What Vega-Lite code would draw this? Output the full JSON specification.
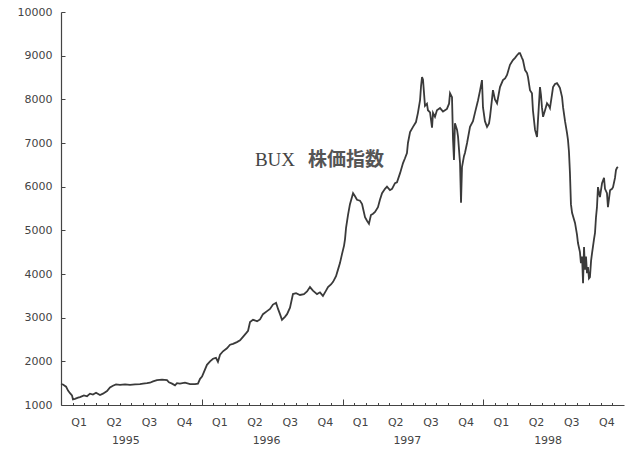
{
  "$schema": "https://vega.github.io/schema/vega-lite/v6.json",
  "width": 563,
  "height": 393,
  "autosize": {"type": "none"},
  "padding": {"left": 61, "top": 12, "right": 4, "bottom": 45},
  "background": "white",
  "config": {
    "view": {"stroke": null},
    "axis": {
      "domainColor": "#444",
      "tickColor": "#444",
      "labelColor": "#444",
      "labelFont": "DejaVu Sans",
      "labelFontSize": 11,
      "grid": false,
      "title": null
    }
  },
  "data": {
    "values": [
      {"year": 1995.000, "bux": 1480}, {"year": 1995.014, "bux": 1470}, {"year": 1995.036, "bux": 1420},
      {"year": 1995.050, "bux": 1330}, {"year": 1995.064, "bux": 1270}, {"year": 1995.078, "bux": 1220},
      {"year": 1995.085, "bux": 1130}, {"year": 1995.099, "bux": 1140}, {"year": 1995.121, "bux": 1170},
      {"year": 1995.135, "bux": 1180}, {"year": 1995.163, "bux": 1220}, {"year": 1995.185, "bux": 1200},
      {"year": 1995.206, "bux": 1260}, {"year": 1995.227, "bux": 1240}, {"year": 1995.249, "bux": 1280},
      {"year": 1995.277, "bux": 1230}, {"year": 1995.298, "bux": 1260}, {"year": 1995.327, "bux": 1320},
      {"year": 1995.348, "bux": 1400}, {"year": 1995.369, "bux": 1440}, {"year": 1995.391, "bux": 1470},
      {"year": 1995.419, "bux": 1460}, {"year": 1995.455, "bux": 1470}, {"year": 1995.490, "bux": 1460},
      {"year": 1995.526, "bux": 1470}, {"year": 1995.561, "bux": 1480}, {"year": 1995.583, "bux": 1490},
      {"year": 1995.611, "bux": 1500}, {"year": 1995.632, "bux": 1510}, {"year": 1995.654, "bux": 1540},
      {"year": 1995.682, "bux": 1570}, {"year": 1995.718, "bux": 1580}, {"year": 1995.753, "bux": 1570},
      {"year": 1995.767, "bux": 1520}, {"year": 1995.789, "bux": 1490}, {"year": 1995.810, "bux": 1450},
      {"year": 1995.824, "bux": 1500}, {"year": 1995.845, "bux": 1490}, {"year": 1995.881, "bux": 1510},
      {"year": 1995.917, "bux": 1480}, {"year": 1995.952, "bux": 1480}, {"year": 1995.973, "bux": 1490},
      {"year": 1995.988, "bux": 1600}, {"year": 1996.002, "bux": 1650}, {"year": 1996.016, "bux": 1760},
      {"year": 1996.037, "bux": 1920}, {"year": 1996.059, "bux": 2000}, {"year": 1996.080, "bux": 2060},
      {"year": 1996.101, "bux": 2080}, {"year": 1996.115, "bux": 1990}, {"year": 1996.130, "bux": 2150},
      {"year": 1996.151, "bux": 2230}, {"year": 1996.179, "bux": 2300}, {"year": 1996.201, "bux": 2380},
      {"year": 1996.222, "bux": 2400}, {"year": 1996.250, "bux": 2440}, {"year": 1996.272, "bux": 2480},
      {"year": 1996.293, "bux": 2560}, {"year": 1996.314, "bux": 2640}, {"year": 1996.329, "bux": 2700},
      {"year": 1996.343, "bux": 2900}, {"year": 1996.364, "bux": 2950}, {"year": 1996.393, "bux": 2920},
      {"year": 1996.414, "bux": 2960}, {"year": 1996.435, "bux": 3080}, {"year": 1996.464, "bux": 3150},
      {"year": 1996.485, "bux": 3200}, {"year": 1996.506, "bux": 3300}, {"year": 1996.528, "bux": 3340},
      {"year": 1996.542, "bux": 3200}, {"year": 1996.556, "bux": 3080}, {"year": 1996.570, "bux": 2950},
      {"year": 1996.591, "bux": 3020}, {"year": 1996.606, "bux": 3080}, {"year": 1996.627, "bux": 3230},
      {"year": 1996.648, "bux": 3540}, {"year": 1996.670, "bux": 3560}, {"year": 1996.698, "bux": 3520},
      {"year": 1996.726, "bux": 3540}, {"year": 1996.748, "bux": 3600}, {"year": 1996.769, "bux": 3700},
      {"year": 1996.790, "bux": 3620}, {"year": 1996.819, "bux": 3540}, {"year": 1996.840, "bux": 3580},
      {"year": 1996.861, "bux": 3500}, {"year": 1996.883, "bux": 3620}, {"year": 1996.897, "bux": 3700},
      {"year": 1996.918, "bux": 3760}, {"year": 1996.933, "bux": 3820}, {"year": 1996.954, "bux": 3950},
      {"year": 1996.968, "bux": 4100}, {"year": 1996.982, "bux": 4250}, {"year": 1996.996, "bux": 4450},
      {"year": 1997.011, "bux": 4650}, {"year": 1997.018, "bux": 4800}, {"year": 1997.025, "bux": 5050},
      {"year": 1997.039, "bux": 5350}, {"year": 1997.053, "bux": 5600}, {"year": 1997.067, "bux": 5760},
      {"year": 1997.075, "bux": 5850}, {"year": 1997.089, "bux": 5780}, {"year": 1997.103, "bux": 5700},
      {"year": 1997.124, "bux": 5680}, {"year": 1997.139, "bux": 5600}, {"year": 1997.146, "bux": 5500},
      {"year": 1997.160, "bux": 5300}, {"year": 1997.174, "bux": 5220}, {"year": 1997.188, "bux": 5150},
      {"year": 1997.202, "bux": 5350}, {"year": 1997.217, "bux": 5380}, {"year": 1997.231, "bux": 5420},
      {"year": 1997.252, "bux": 5530}, {"year": 1997.266, "bux": 5700}, {"year": 1997.281, "bux": 5850},
      {"year": 1997.302, "bux": 5950}, {"year": 1997.316, "bux": 6000}, {"year": 1997.337, "bux": 5920},
      {"year": 1997.352, "bux": 5950}, {"year": 1997.373, "bux": 6080}, {"year": 1997.387, "bux": 6100},
      {"year": 1997.409, "bux": 6310}, {"year": 1997.430, "bux": 6540}, {"year": 1997.444, "bux": 6650},
      {"year": 1997.458, "bux": 6770}, {"year": 1997.465, "bux": 7000}, {"year": 1997.480, "bux": 7250},
      {"year": 1997.501, "bux": 7370}, {"year": 1997.522, "bux": 7480}, {"year": 1997.536, "bux": 7690},
      {"year": 1997.551, "bux": 7980}, {"year": 1997.558, "bux": 8300}, {"year": 1997.565, "bux": 8510},
      {"year": 1997.572, "bux": 8450}, {"year": 1997.586, "bux": 7850}, {"year": 1997.600, "bux": 7900},
      {"year": 1997.607, "bux": 7750}, {"year": 1997.622, "bux": 7700}, {"year": 1997.636, "bux": 7350},
      {"year": 1997.643, "bux": 7690}, {"year": 1997.657, "bux": 7600}, {"year": 1997.671, "bux": 7750},
      {"year": 1997.693, "bux": 7800}, {"year": 1997.714, "bux": 7720}, {"year": 1997.728, "bux": 7750},
      {"year": 1997.742, "bux": 7780}, {"year": 1997.757, "bux": 7900}, {"year": 1997.764, "bux": 8140},
      {"year": 1997.778, "bux": 8050}, {"year": 1997.785, "bux": 7100}, {"year": 1997.792, "bux": 6610},
      {"year": 1997.799, "bux": 7450}, {"year": 1997.814, "bux": 7300}, {"year": 1997.821, "bux": 7140},
      {"year": 1997.835, "bux": 6540}, {"year": 1997.842, "bux": 5630}, {"year": 1997.849, "bux": 6450},
      {"year": 1997.863, "bux": 6700}, {"year": 1997.870, "bux": 6770}, {"year": 1997.885, "bux": 7000},
      {"year": 1997.906, "bux": 7370}, {"year": 1997.927, "bux": 7500}, {"year": 1997.941, "bux": 7690},
      {"year": 1997.963, "bux": 7980}, {"year": 1997.977, "bux": 8200}, {"year": 1997.991, "bux": 8440},
      {"year": 1997.998, "bux": 7820}, {"year": 1998.012, "bux": 7500}, {"year": 1998.027, "bux": 7370},
      {"year": 1998.041, "bux": 7450}, {"year": 1998.048, "bux": 7600}, {"year": 1998.062, "bux": 8000},
      {"year": 1998.069, "bux": 8210}, {"year": 1998.083, "bux": 8000}, {"year": 1998.098, "bux": 7910},
      {"year": 1998.119, "bux": 8280}, {"year": 1998.140, "bux": 8440}, {"year": 1998.155, "bux": 8480},
      {"year": 1998.169, "bux": 8560}, {"year": 1998.190, "bux": 8790}, {"year": 1998.211, "bux": 8900},
      {"year": 1998.226, "bux": 8950}, {"year": 1998.240, "bux": 9010}, {"year": 1998.254, "bux": 9060},
      {"year": 1998.261, "bux": 9060}, {"year": 1998.275, "bux": 8950}, {"year": 1998.282, "bux": 8900},
      {"year": 1998.297, "bux": 8670}, {"year": 1998.311, "bux": 8600}, {"year": 1998.318, "bux": 8510},
      {"year": 1998.332, "bux": 8210}, {"year": 1998.346, "bux": 8140}, {"year": 1998.353, "bux": 7750},
      {"year": 1998.368, "bux": 7300}, {"year": 1998.382, "bux": 7140}, {"year": 1998.389, "bux": 7530},
      {"year": 1998.403, "bux": 8280}, {"year": 1998.410, "bux": 8100}, {"year": 1998.417, "bux": 7820},
      {"year": 1998.425, "bux": 7600}, {"year": 1998.439, "bux": 7750}, {"year": 1998.453, "bux": 7910},
      {"year": 1998.467, "bux": 7850}, {"year": 1998.474, "bux": 7800}, {"year": 1998.488, "bux": 8100},
      {"year": 1998.496, "bux": 8280}, {"year": 1998.510, "bux": 8350}, {"year": 1998.524, "bux": 8370},
      {"year": 1998.538, "bux": 8300}, {"year": 1998.545, "bux": 8260}, {"year": 1998.560, "bux": 8050},
      {"year": 1998.567, "bux": 7820}, {"year": 1998.581, "bux": 7500}, {"year": 1998.595, "bux": 7230},
      {"year": 1998.602, "bux": 7070}, {"year": 1998.609, "bux": 6800}, {"year": 1998.616, "bux": 6310},
      {"year": 1998.623, "bux": 5600}, {"year": 1998.631, "bux": 5400}, {"year": 1998.652, "bux": 5170},
      {"year": 1998.666, "bux": 4900}, {"year": 1998.673, "bux": 4710}, {"year": 1998.687, "bux": 4500},
      {"year": 1998.694, "bux": 4250}, {"year": 1998.702, "bux": 4400}, {"year": 1998.709, "bux": 3790},
      {"year": 1998.716, "bux": 4620}, {"year": 1998.723, "bux": 4100}, {"year": 1998.730, "bux": 4400},
      {"year": 1998.737, "bux": 4020}, {"year": 1998.744, "bux": 4160}, {"year": 1998.751, "bux": 3900},
      {"year": 1998.758, "bux": 3930}, {"year": 1998.766, "bux": 4300}, {"year": 1998.773, "bux": 4480},
      {"year": 1998.787, "bux": 4800}, {"year": 1998.794, "bux": 4940}, {"year": 1998.801, "bux": 5300},
      {"year": 1998.808, "bux": 5530}, {"year": 1998.815, "bux": 5990}, {"year": 1998.829, "bux": 5760},
      {"year": 1998.844, "bux": 6080}, {"year": 1998.858, "bux": 6200}, {"year": 1998.865, "bux": 5950},
      {"year": 1998.879, "bux": 5850}, {"year": 1998.886, "bux": 5530}, {"year": 1998.901, "bux": 5920},
      {"year": 1998.915, "bux": 5950}, {"year": 1998.922, "bux": 5990}, {"year": 1998.936, "bux": 6200},
      {"year": 1998.943, "bux": 6380}, {"year": 1998.950, "bux": 6430}, {"year": 1998.957, "bux": 6450}
    ]
  },
  "resolve": {"axis": {"x": "independent", "y": "shared"}, "scale": {"x": "shared", "y": "shared"}},
  "layer": [
    {
      "mark": {"type": "line", "color": "#3a3a3a", "strokeWidth": 1.8, "interpolate": "linear"},
      "encoding": {
        "x": {
          "field": "year", "type": "quantitative",
          "scale": {"domain": [1995, 1999], "nice": false, "zero": false},
          "axis": {
            "orient": "bottom",
            "values": [1995.125, 1995.375, 1995.625, 1995.875, 1996.125, 1996.375, 1996.625, 1996.875, 1997.125, 1997.375, 1997.625, 1997.875, 1998.125, 1998.375, 1998.625, 1998.875],
            "labelExpr": "'Q' + (floor((datum.value - floor(datum.value)) * 4) + 1)",
            "ticks": false,
            "labelPadding": 11,
            "labelFlush": false,
            "labelOverlap": false,
            "domainWidth": 1.2
          }
        },
        "y": {
          "field": "bux", "type": "quantitative",
          "scale": {"domain": [1000, 10000], "nice": false, "zero": false},
          "axis": {
            "values": [1000, 2000, 3000, 4000, 5000, 6000, 7000, 8000, 9000, 10000],
            "format": "d",
            "tickSize": -4,
            "labelPadding": 13,
            "domainWidth": 1.2,
            "labelFlush": false
          }
        }
      }
    },
    {
      "mark": {"type": "point", "opacity": 0},
      "encoding": {
        "x": {
          "field": "year", "type": "quantitative",
          "axis": {
            "orient": "bottom",
            "values": [1995.0833, 1995.1667, 1995.25, 1995.3333, 1995.4167, 1995.5, 1995.5833, 1995.6667, 1995.75, 1995.8333, 1995.9167,
                       1996.0833, 1996.1667, 1996.25, 1996.3333, 1996.4167, 1996.5, 1996.5833, 1996.6667, 1996.75, 1996.8333, 1996.9167,
                       1997.0833, 1997.1667, 1997.25, 1997.3333, 1997.4167, 1997.5, 1997.5833, 1997.6667, 1997.75, 1997.8333, 1997.9167,
                       1998.0833, 1998.1667, 1998.25, 1998.3333, 1998.4167, 1998.5, 1998.5833, 1998.6667, 1998.75, 1998.8333, 1998.9167],
            "labels": false,
            "domain": false,
            "tickSize": -2.5
          }
        }
      }
    },
    {
      "mark": {"type": "point", "opacity": 0},
      "encoding": {
        "x": {
          "field": "year", "type": "quantitative",
          "axis": {
            "orient": "bottom",
            "values": [1996, 1997, 1998],
            "labels": false,
            "domain": false,
            "tickSize": -6
          }
        }
      }
    },
    {
      "mark": {"type": "point", "opacity": 0},
      "encoding": {
        "x": {
          "field": "year", "type": "quantitative",
          "axis": {
            "orient": "bottom",
            "values": [1995.5, 1996.5, 1997.5, 1998.5],
            "labelExpr": "floor(datum.value)",
            "ticks": false,
            "domain": false,
            "labelPadding": 29,
            "labelOffset": -6,
            "labelFlush": false,
            "labelOverlap": false
          }
        }
      }
    },
    {
      "data": {"values": [{"year": 1996.52, "bux": 6610, "label": "BUX"}]},
      "mark": {"type": "text", "font": "Liberation Serif", "fontSize": 19, "color": "#444", "align": "center", "baseline": "middle"},
      "encoding": {
        "x": {"field": "year", "type": "quantitative", "axis": null},
        "y": {"field": "bux", "type": "quantitative"},
        "text": {"field": "label"}
      }
    },
    {
      "data": {"values": [{"year": 1997.025, "bux": 6610, "label": "株価指数"}]},
      "mark": {"type": "text", "font": "Noto Sans CJK JP", "fontSize": 19, "fontWeight": "bold", "color": "#555", "align": "center", "baseline": "middle"},
      "encoding": {
        "x": {"field": "year", "type": "quantitative", "axis": null},
        "y": {"field": "bux", "type": "quantitative"},
        "text": {"field": "label"}
      }
    }
  ]
}
